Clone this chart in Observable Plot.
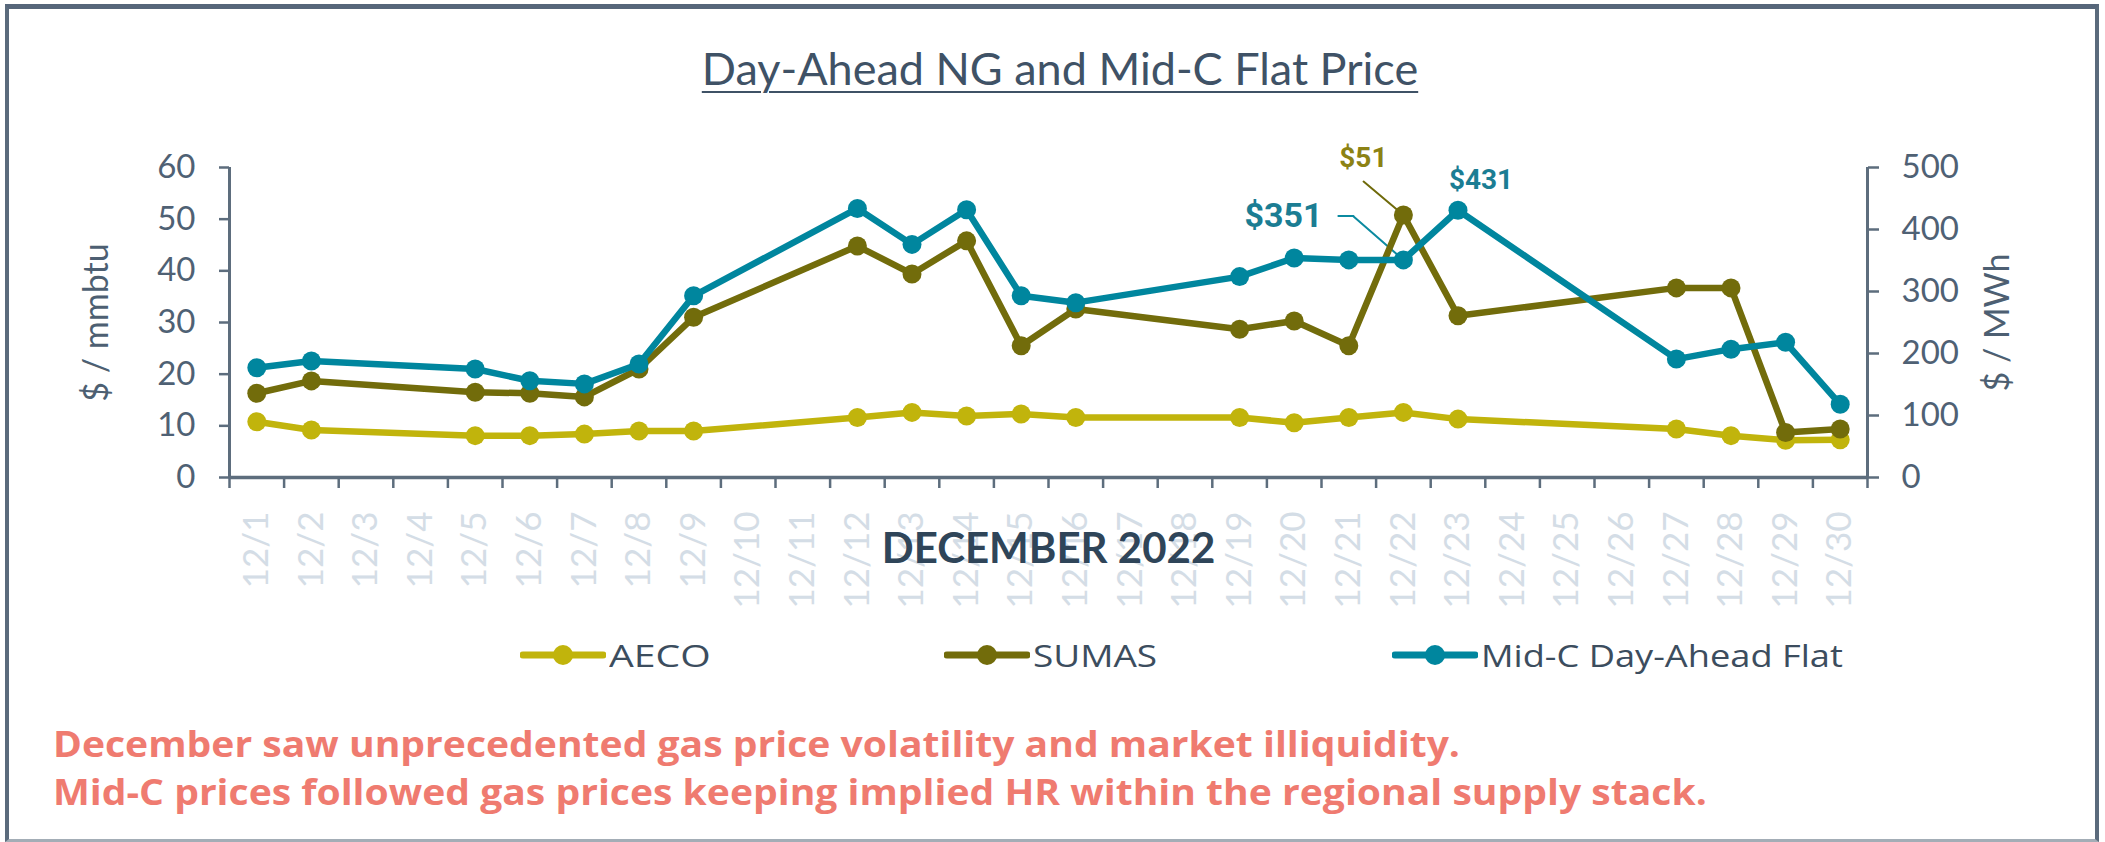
<!DOCTYPE html>
<html>
<head>
<meta charset="utf-8">
<script src="https://cdn.jsdelivr.net/npm/d3@7"></script>
<script src="https://cdn.jsdelivr.net/npm/@observablehq/plot@0.6"></script>
<style>
  html, body { margin: 0; padding: 0; background: #ffffff; }
  #wrap { position: relative; width: 2105px; height: 842px; overflow: hidden; font-family: Lato, "Open Sans", sans-serif; background: #fff; }
  #border { position: absolute; left: 5px; top: 4px; width: 2086px; height: 830px;
            border-top: 5px solid #56667a; border-left: 4px solid #5b6b7c; border-right: 4px solid #5b6b7c; border-bottom: 3px solid #a3adb6; pointer-events: none; }
  #title { position: absolute; left: 0; top: 46px; width: 2120px; text-align: center; font-size: 45px; line-height: 45px; color: #3f5266;
           text-decoration: underline; text-decoration-thickness: 2px; text-underline-offset: 6px; }
  #chart { position: absolute; left: 0; top: 0; }
  #legend { position: absolute; left: 520px; top: 635px; display: flex; align-items: center; gap: 234px; }
  .item { display: flex; align-items: center; font-family: "Open Sans", Lato, sans-serif; font-size: 31px; line-height: 40px; color: #3c4d5e; white-space: nowrap; }
  .item svg { display: block; margin-right: 3px; }
  .item span, #caption span { display: inline-block; transform-origin: 0 50%; }
  #caption { position: absolute; left: 53px; top: 720px; font-family: "Open Sans", Lato, sans-serif; font-size: 35px; line-height: 47.5px; font-weight: 700; color: #ef7b70; white-space: nowrap; }
</style>
</head>
<body>
<div id="wrap">
  <div id="chart"></div>
  <div id="title">Day-Ahead NG and Mid-C Flat Price</div>
  <div id="legend"></div>
  <div id="caption"></div>
  <div id="border"></div>
</div>
<script>
// ---- Data ----
const xLabels = ["12/1","12/2","12/3","12/4","12/5","12/6","12/7","12/8","12/9","12/10",
                 "12/11","12/12","12/13","12/14","12/15","12/16","12/17","12/18","12/19","12/20",
                 "12/21","12/22","12/23","12/24","12/25","12/26","12/27","12/28","12/29","12/30"];
const days  = [1, 2, 5, 6, 7, 8, 9, 12, 13, 14, 15, 16, 19, 20, 21, 22, 23, 27, 28, 29, 30];
const aeco  = [10.8, 9.2, 8.1, 8.1, 8.4, 9.0, 9.0, 11.6, 12.6, 11.9, 12.3, 11.6, 11.6, 10.6, 11.6, 12.6, 11.3, 9.4, 8.1, 7.2, 7.3];
const sumas = [16.3, 18.7, 16.5, 16.3, 15.6, 21.0, 31.0, 44.8, 39.4, 45.8, 25.5, 32.6, 28.7, 30.3, 25.5, 50.8, 31.3, 36.7, 36.7, 8.7, 9.4];
const midc  = [177, 188, 175, 156, 151, 183, 293, 434, 376, 432, 293, 282, 324, 354, 351, 351, 431, 191, 207, 218, 118];
const leftTicks  = [0, 10, 20, 30, 40, 50, 60];
const rightTicks = [0, 100, 200, 300, 400, 500];
const seriesNames  = ["AECO", "SUMAS", "Mid-C Day-Ahead Flat"];
const seriesColors = ["#c1b40c", "#726c0b", "#00869e"];
const captionLines = ["December saw unprecedented gas price volatility and market illiquidity.",
                      "Mid-C prices followed gas prices keeping implied HR within the regional supply stack."];

// ---- Derived tables ----
const leftMax = 60, rightMax = 500, k = leftMax / rightMax;   // Mid-C plotted on right axis
const xDomain = [0.5, xLabels.length + 0.5];
const series = [
  {name: seriesNames[0], color: seriesColors[0], rows: days.map((d, i) => ({day: d, value: aeco[i],  y: aeco[i]}))},
  {name: seriesNames[1], color: seriesColors[1], rows: days.map((d, i) => ({day: d, value: sumas[i], y: sumas[i]}))},
  {name: seriesNames[2], color: seriesColors[2], rows: days.map((d, i) => ({day: d, value: midc[i],  y: midc[i] * k}))}
];
const pick = (s, day) => series[s].rows.filter(r => r.day === day);
const fmt = v => "$" + Math.round(v);

const axisColor = "#5d6d7d", tickText = "#4f6174";
const bounds = d3.range(xDomain[0], xDomain[1] + 0.01, 1);
const lineShape = {draw(ctx, l) { ctx.moveTo(0, 0); ctx.lineTo(0, -l); }};
const labelFont = "Roboto, 'Liberation Sans', sans-serif";

const marks = [
  // axes
  Plot.axisY({ticks: leftTicks, tickSize: 10, tickPadding: 24, fontSize: 33, color: tickText, stroke: axisColor, strokeWidth: 2.5, label: null}),
  Plot.axisY({anchor: "right", ticks: rightTicks.map(v => v * k), tickFormat: d => String(Math.round(d / k)),
              tickSize: 11, tickPadding: 23, fontSize: 33, color: tickText, stroke: axisColor, strokeWidth: 2.5, label: null}),
  Plot.axisX({ticks: bounds, tickFormat: () => "", tickSize: 11, stroke: axisColor, strokeWidth: 2.5, label: null}),
  Plot.axisX({ticks: d3.range(1, xLabels.length + 1), tickFormat: d => xLabels[d - 1], tickSize: 0, tickPadding: 34,
              tickRotate: -90, fontSize: 35, color: "#d4dde6", label: null}),
  Plot.ruleX([xDomain[0], xDomain[1]], {y1: 0, y2: leftMax, stroke: axisColor, strokeWidth: 3}),
  Plot.ruleY([0], {x1: xDomain[0], x2: xDomain[1], stroke: axisColor, strokeWidth: 3.5}),
  // axis titles
  Plot.text(["$ / mmbtu"], {frameAnchor: "left", textAnchor: "middle", dx: -132, rotate: -90, fontSize: 34, fill: "#4d5f72"}),
  Plot.text(["$ / MWh"], {frameAnchor: "right", textAnchor: "middle", dx: 131, rotate: -90, fontSize: 34, fill: "#4d5f72"}),
  Plot.text(["DECEMBER 2022"], {frameAnchor: "bottom", dy: 85, fontSize: 42, fontWeight: 700, fill: "#2f4559"}),
  // leader lines
  Plot.vector(pick(1, 22), {x: "day", y: "y", anchor: "start", length: 52, rotate: -50, shape: lineShape, stroke: "#6f6a0a", strokeWidth: 2}),
  Plot.vector(pick(2, 22), {x: "day", y: "y", anchor: "start", length: 66, rotate: -49, shape: lineShape, stroke: "#0b8aa0", strokeWidth: 2}),
  Plot.vector(pick(2, 22), {x: "day", y: "y", dx: -50, dy: -44, anchor: "start", length: 15, rotate: -90, shape: lineShape, stroke: "#0b8aa0", strokeWidth: 2})
];
for (const s of series) {
  marks.push(Plot.line(s.rows, {x: "day", y: "y", stroke: s.color, strokeWidth: 6.5, strokeLinejoin: "round", strokeLinecap: "round"}));
  marks.push(Plot.dot(s.rows, {x: "day", y: "y", r: 9.5, fill: s.color, stroke: "none"}));
}
// value labels
marks.push(
  Plot.text(pick(1, 22), {x: "day", y: "y", text: d => fmt(d.value), dx: -40, dy: -57, fontSize: 28, fontWeight: 700, fontFamily: labelFont, fill: "#8c8214"}),
  Plot.text(pick(2, 22), {x: "day", y: "y", text: d => fmt(d.value), dx: -120, dy: -44, fontSize: 34, fontWeight: 700, fontFamily: labelFont, fill: "#1b7d93"}),
  Plot.text(pick(2, 23), {x: "day", y: "y", text: d => fmt(d.value), dx: 23, dy: -30, fontSize: 28, fontWeight: 700, fontFamily: labelFont, fill: "#1b7d93"})
);

const chart = Plot.plot({
  width: 2105,
  height: 600,
  marginLeft: 229,
  marginRight: 238,
  marginTop: 167,
  marginBottom: 123,
  style: {fontFamily: "Lato, 'Open Sans', sans-serif", background: "transparent", overflow: "visible"},
  x: {type: "linear", domain: xDomain},
  y: {domain: [0, leftMax]},
  marks
});
document.getElementById("chart").appendChild(chart);

// stretch a text span horizontally to a target width (wider typeface in the original)
function stretch(el, target) {
  const w = el.offsetWidth;
  el.style.transform = `scaleX(${target / w})`;
  el.style.marginRight = (target - w) + "px";
}

// legend
const legendWidths = [101, 124, 362];
const legend = document.getElementById("legend");
series.forEach((s, i) => {
  const item = document.createElement("div");
  item.className = "item";
  item.innerHTML = `<svg width="86" height="26"><line x1="3" y1="13" x2="83" y2="13" stroke="${s.color}" stroke-width="7" stroke-linecap="round"/><circle cx="43" cy="13" r="10" fill="${s.color}"/></svg><span>${s.name}</span>`;
  legend.appendChild(item);
  stretch(item.querySelector("span"), legendWidths[i]);
});
// caption
const cap = document.getElementById("caption");
cap.innerHTML = captionLines.map(t => `<div><span>${t}</span></div>`).join("");
const capSpans = cap.querySelectorAll("span");
const sx = 1407 / capSpans[0].offsetWidth;
capSpans.forEach(s => s.style.transform = `scaleX(${sx})`);
</script>
</body>
</html>
